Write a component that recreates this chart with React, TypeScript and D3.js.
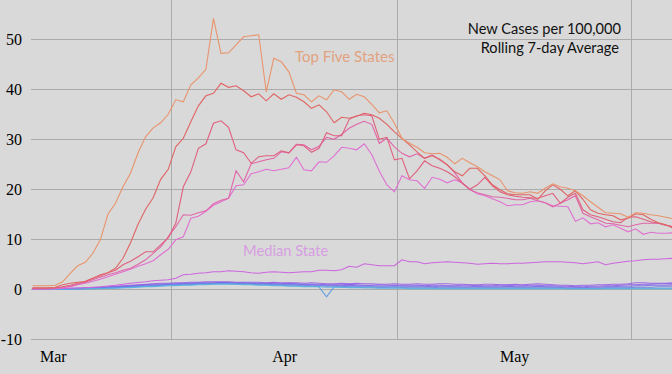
import React from "react";
import * as d3 from "d3";

const W = 672;
const H = 374;

// day index 0 = Feb 29
const monthLabels = ["Mar", "Apr", "May"];
const monthDays = [1, 32, 62];
const gridDays = [18.5, 48.5, 79.5];
const yTicks = [50, 40, 30, 20, 10, 0, -10];

const top1 = [0.7,0.7,0.7,0.8,1.5,3.2,4.7,5.4,7.2,9.9,15.0,17.2,20.5,23.2,27.3,30.5,32.3,33.3,35.0,37.9,37.5,40.9,42.3,44.0,54.2,47.2,47.3,48.9,50.5,50.7,50.9,39.5,46.2,45.5,43.5,39.2,38.9,37.5,38.7,37.9,39.9,39.5,38.0,39.0,38.5,37.0,35.3,35.7,33.2,30.2,29.2,28.4,27.3,27.1,27.2,26.4,25.1,26.2,25.3,24.5,23.5,22.7,21.9,19.7,19.3,19.2,19.5,19.2,20.2,21.1,20.5,20.2,19.7,18.7,17.5,16.4,15.3,15.2,15.1,14.4,15.3,15.2,14.9,14.7,14.4,14.1];
const top2 = [0.3,0.3,0.3,0.4,0.9,1.2,1.4,1.5,2.2,2.7,3.3,4.2,6.2,9.3,13.0,16.0,18.3,22.0,24.0,28.5,30.2,33.5,36.7,38.7,39.2,41.2,40.4,40.7,39.7,38.5,39.1,37.7,39.1,38.0,38.9,38.4,37.5,36.2,36.9,35.5,33.3,34.4,34.2,34.6,35.2,34.9,34.2,33.0,31.5,30.2,28.9,27.5,26.2,26.7,26.0,24.9,23.5,22.7,24.2,24.2,22.7,20.9,19.9,19.1,18.9,18.9,18.9,18.0,19.7,20.9,20.0,18.7,19.7,18.0,15.9,15.2,14.9,14.7,13.9,14.2,15.1,14.9,14.0,13.3,12.9,12.2];
const top3 = [0.2,0.2,0.2,0.3,0.5,0.8,1.2,1.6,2.2,2.9,3.3,3.8,4.9,5.6,6.5,7.5,7.5,8.9,10.3,13.2,20.5,23.5,28.2,29.1,33.2,33.7,32.4,27.9,27.3,25.2,26.5,26.7,26.7,27.7,27.3,28.9,28.7,27.4,28.2,31.3,30.7,30.7,34.0,34.7,34.9,34.7,30.0,30.4,25.9,26.2,22.1,23.7,25.7,24.7,24.2,23.5,22.5,21.2,20.0,20.9,22.4,20.7,19.5,18.9,18.6,18.4,18.3,18.2,18.7,19.2,17.2,18.4,19.2,15.9,14.9,14.5,14.0,13.5,13.3,14.4,14.5,14.0,13.5,13.2,12.8,12.5];
const top4 = [0.1,0.1,0.1,0.2,0.4,0.6,1.0,1.4,1.9,2.4,2.9,3.3,3.8,4.2,5.0,5.9,7.2,8.5,10.5,12.5,14.9,14.8,15.3,15.7,17.1,17.8,18.2,23.7,21.5,25.1,25.5,25.9,26.2,27.5,27.3,29.0,28.9,27.9,28.6,30.4,30.0,31.0,32.2,33.0,33.6,33.0,29.2,30.2,28.5,27.2,26.5,27.1,26.2,26.9,25.9,24.9,23.3,21.3,19.9,19.3,18.9,18.5,18.4,18.2,17.9,17.9,18.2,17.7,17.3,16.5,17.2,17.9,18.7,15.2,14.5,13.9,13.2,13.1,12.8,12.5,12.9,13.2,13.2,13.2,12.8,12.5];
const top5 = [0.1,0.1,0.1,0.1,0.3,0.5,0.9,1.2,1.6,2.0,2.5,3.0,3.5,4.0,4.6,5.1,5.7,6.9,8.0,9.9,10.5,14.2,14.6,15.6,16.8,17.5,18.2,20.7,20.9,23.1,23.5,24.0,23.7,24.0,24.3,26.4,23.9,23.7,25.5,25.4,26.7,28.4,28.2,27.9,29.1,26.9,23.6,20.9,19.5,22.7,21.9,21.7,20.2,22.4,22.0,21.3,21.9,21.3,20.0,19.1,18.7,18.1,17.5,16.7,16.9,16.9,17.5,17.7,17.3,16.7,16.6,16.5,13.6,14.3,13.1,13.3,12.5,12.9,12.2,11.5,12.1,11.0,11.4,11.2,11.2,11.3];
const median = [0.0,0.05,0.05,0.1,0.15,0.2,0.25,0.3,0.4,0.5,0.65,0.8,1.0,1.2,1.35,1.5,1.7,1.8,1.9,2.2,2.9,3.0,3.2,3.3,3.5,3.5,3.7,3.6,3.5,3.3,3.2,3.4,3.5,3.4,3.3,3.4,3.5,3.5,3.8,3.8,3.7,3.9,4.6,4.4,5.1,4.9,4.7,4.7,4.7,5.9,5.5,5.5,5.1,5.3,5.4,5.5,5.4,5.3,5.2,5.0,5.1,5.2,5.1,5.1,5.2,5.2,5.3,5.4,5.5,5.5,5.5,5.4,5.3,5.1,5.3,5.5,4.9,5.2,5.4,5.6,5.7,5.9,6.0,6.0,6.1,6.2];
const low1 = [0.0,0.0,0.1,0.1,0.1,0.2,0.2,0.3,0.3,0.4,0.5,0.6,0.7,0.8,0.9,1.0,1.1,1.2,1.2,1.3,1.3,1.4,1.4,1.5,1.5,1.5,1.5,1.4,1.4,1.4,1.4,1.3,1.4,1.3,1.3,1.3,1.2,1.3,1.2,1.1,1.1,1.2,1.1,1.2,1.1,1.1,1.0,1.0,1.1,1.0,1.0,1.1,1.0,1.0,1.1,1.1,1.0,1.0,0.9,0.9,1.0,1.0,0.9,0.9,1.0,0.9,1.0,1.1,1.0,0.9,0.8,0.8,0.7,0.8,0.8,0.9,0.9,1.0,1.0,1.1,1.3,1.3,1.2,1.2,1.2,1.3];
const low2 = [0.0,0.0,0.0,0.1,0.1,0.1,0.2,0.2,0.3,0.3,0.4,0.5,0.6,0.7,0.8,0.9,1.0,1.0,1.1,1.1,1.2,1.2,1.3,1.3,1.3,1.4,1.3,1.3,1.3,1.2,1.2,1.2,1.1,1.1,1.2,1.1,1.0,1.0,1.0,0.9,0.9,0.9,1.0,0.9,0.8,0.8,0.9,0.8,0.8,0.8,0.8,0.8,0.7,0.8,0.8,0.7,0.7,0.8,0.8,0.7,0.7,0.7,0.8,0.8,0.7,0.7,0.8,0.8,0.7,0.7,0.6,0.6,0.5,0.5,0.6,0.6,0.7,0.7,0.8,0.9,0.9,1.0,1.0,1.1,1.1,1.1];
const low3 = [0.0,0.0,0.0,0.0,0.1,0.1,0.1,0.2,0.2,0.3,0.3,0.4,0.5,0.6,0.7,0.8,0.8,0.9,1.0,1.0,1.1,1.1,1.2,1.2,1.2,1.3,1.3,1.2,1.2,1.2,1.1,1.1,1.1,1.0,1.0,1.0,0.9,0.9,0.8,0.8,0.8,0.7,0.8,0.7,0.7,0.7,0.6,0.6,0.7,0.6,0.6,0.6,0.6,0.5,0.6,0.6,0.5,0.5,0.5,0.6,0.5,0.5,0.5,0.6,0.5,0.5,0.5,0.6,0.5,0.5,0.4,0.4,0.4,0.3,0.4,0.4,0.5,0.5,0.6,0.6,0.7,0.7,0.8,0.8,0.8,0.9];
const low4 = [0.0,0.0,0.0,0.0,0.0,0.1,0.1,0.1,0.2,0.2,0.3,0.3,0.4,0.5,0.6,0.7,0.7,0.8,0.9,0.9,1.0,1.0,1.1,1.1,1.1,1.2,1.2,1.1,1.1,1.1,1.0,1.0,0.9,0.9,0.9,0.8,0.8,0.7,0.7,0.6,0.6,0.6,0.5,0.5,0.5,0.5,0.4,0.4,0.5,0.4,0.4,0.4,0.4,0.4,0.3,0.3,0.3,0.3,0.3,0.3,0.3,0.3,0.3,0.3,0.3,0.3,0.3,0.3,0.3,0.3,0.3,0.2,0.2,0.2,0.2,0.2,0.3,0.3,0.3,0.3,0.4,0.4,0.4,0.5,0.5,0.5];
const low5 = [0.0,0.0,0.0,0.0,0.0,0.0,0.1,0.1,0.1,0.2,0.2,0.3,0.3,0.4,0.5,0.6,0.6,0.7,0.8,0.8,0.9,0.9,1.0,1.0,1.1,1.1,1.1,1.0,1.0,1.0,0.9,0.9,0.8,0.8,0.7,0.7,0.6,0.6,0.5,-1.5,0.5,0.4,0.4,0.4,0.3,0.3,0.3,0.3,0.3,0.3,0.2,0.2,0.2,0.2,0.2,0.2,0.2,0.2,0.2,0.2,0.2,0.2,0.2,0.2,0.2,0.2,0.2,0.2,0.2,0.2,0.2,0.1,0.1,0.1,0.1,0.1,0.2,0.2,0.2,0.2,0.2,0.2,0.2,0.2,0.2,0.2];
const low6 = [0.0,0.0,0.0,0.0,0.0,0.0,0.0,0.1,0.1,0.1,0.2,0.2,0.3,0.3,0.4,0.5,0.5,0.6,0.7,0.7,0.8,0.8,0.9,0.9,1.0,1.0,1.0,1.0,0.9,0.9,0.8,0.8,0.7,0.7,0.6,0.6,0.5,0.5,0.5,0.4,0.4,0.4,0.3,0.3,0.3,0.3,0.2,0.2,0.2,0.2,0.1,0.1,0.1,0.1,0.1,0.1,0.1,0.1,0.1,0.1,0.1,0.1,0.1,0.1,0.1,0.1,0.1,0.1,0.1,0.1,0.1,0.1,0.1,0.1,0.1,0.1,0.1,0.1,0.1,0.1,0.1,0.1,0.1,0.1,0.1,0.1];

const lowSeries = [low1, low2, low3, low4, low5, low6];
const lowColors = ["#9a5ee6", "#8a62ea", "#7a6ae6", "#6a80e6", "#5a9ae0", "#58b4e0"];
const topSeries = [top5, top4, top3, top2, top1];
const topColors = ["#e070d2", "#e066a8", "#e0607e", "#e06464", "#e8946c"];

export default function App() {
  const x = d3.scaleLinear().domain([0, 85]).range([32.5, 673.4]);
  const y = d3.scaleLinear().domain([-10, 50]).range([339.3, 39.3]);
  const line = d3
    .line<number>()
    .x((_, i) => x(i))
    .y((v) => y(v));
  const serif = "'Liberation Serif', 'Times New Roman', serif";
  const sans = "Lato, 'Open Sans', sans-serif";
  return (
    <div style={{ position: "absolute", left: 0, top: 0 }}>
      <style>{`body{margin:0}`}</style>
      <svg width={W} height={H} style={{ display: "block", background: "#d9d9d9" }}>
        <rect x={0} y={0} width={W} height={H} fill="#d9d9d9" />
        {yTicks.map((t) => (
          <line key={"h" + t} x1={31} x2={W} y1={Math.round(y(t)) + 0.5} y2={Math.round(y(t)) + 0.5} stroke="#ababab" strokeWidth={1} />
        ))}
        {gridDays.map((g) => (
          <line key={"v" + g} x1={Math.round(x(g)) - 0.5} x2={Math.round(x(g)) - 0.5} y1={0} y2={y(-10)} stroke="#ababab" strokeWidth={1} />
        ))}
        {yTicks.map((t) => (
          <text key={"t" + t} x={22} y={y(t)} dy="0.34em" textAnchor="end" fontFamily={serif} fontSize={16} fill="#000">
            {t}
          </text>
        ))}
        {monthLabels.map((m, i) => (
          <text key={m} x={x(monthDays[i]) - (i === 1 ? 1.5 : 0)} y={362} textAnchor="start" fontFamily={serif} fontSize={16} fill="#000">
            {m}
          </text>
        ))}
        {lowSeries.map((s, i) => (
          <path key={"l" + i} d={line(s) || ""} fill="none" stroke={lowColors[i]} strokeWidth={1.1} strokeOpacity={0.9} />
        ))}
        <path d={line(median) || ""} fill="none" stroke="#cc66e0" strokeWidth={1.1} />
        {topSeries.map((s, i) => (
          <path key={"t" + i} d={line(s) || ""} fill="none" stroke={topColors[i]} strokeWidth={1.1} />
        ))}
        <text x={621} y={34} textAnchor="end" fontFamily={sans} fontSize={14.6} fill="#111">
          New Cases per 100,000
        </text>
        <text x={619} y={53} textAnchor="end" fontFamily={sans} fontSize={14.6} fill="#111">
          Rolling 7-day Average
        </text>
        <text x={295} y={62} fontFamily={sans} fontSize={15} fill="#e3a27e">
          Top Five States
        </text>
        <text x={243} y={256} fontFamily={sans} fontSize={14.7} fill="#d79ee2">
          Median State
        </text>
      </svg>
    </div>
  );
}
